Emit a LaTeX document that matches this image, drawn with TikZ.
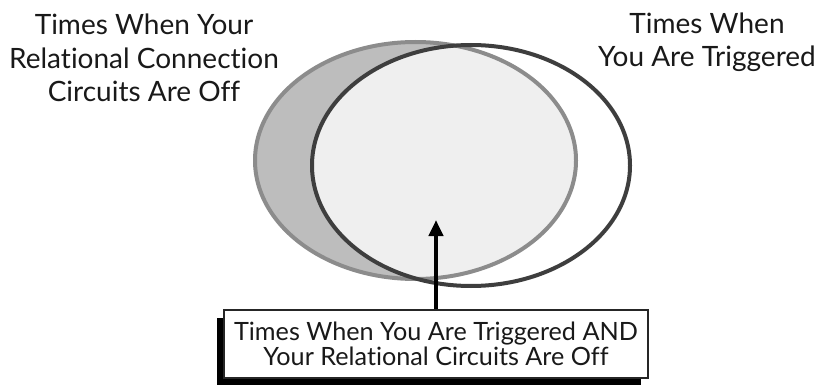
\documentclass[tikz,border=0pt]{standalone}
\usepackage{fontspec}
\setmainfont{Lato}[Ligatures=NoCommon]
\usepackage{tikz}
\usetikzlibrary{arrows.meta, positioning, shadows}
\definecolor{offgray}{RGB}{189,189,189}
\definecolor{offedge}{RGB}{140,140,140}
\definecolor{overlapgray}{RGB}{239,239,239}
\definecolor{trigedge}{RGB}{62,62,62}

\begin{document}
\begin{tikzpicture}[x=0.5pt, y=-0.5pt,
  lbl/.style={align=center, font=\fontsize{14}{16.75}\selectfont, text=black!90},
  callout/.style={draw=black!85, line width=0.8pt, fill=white, align=center,
    minimum width=212pt, minimum height=34pt, inner sep=0pt,
    font=\fontsize{12.6}{10.8}\selectfont, text=black!90,
    drop shadow={shadow xshift=-3.5pt, shadow yshift=-4pt, fill=black, opacity=1}}]
  \useasboundingbox (0,0) rectangle (819,385);
  % the two sets
  \fill[offgray] (415.5,160.5) ellipse [x radius=160.5, y radius=118.5];
  \begin{scope}
    \clip (415.5,160.5) ellipse [x radius=160.5, y radius=118.5];
    \fill[overlapgray] (471,165.5) ellipse [x radius=159, y radius=120.5];
  \end{scope}
  \draw[offedge, line width=2pt] (415.5,160.5) ellipse [x radius=160.5, y radius=118.5];
  \draw[trigedge, line width=2pt] (471,165.5) ellipse [x radius=159, y radius=120.5];
  % labels
  \node[lbl] (offlbl) at (144,58) {Times When Your\\Relational Connection\\Circuits Are Off};
  \node[lbl] (triglbl) at (707,42) {Times When\\You Are Triggered};
  \node[callout] (both) at (436,344) {Times When You Are Triggered AND\\Your Relational Circuits Are Off};
  \coordinate (tip) at (both.north |- 0,220);
  \draw[-{Triangle[length=8pt, width=7pt]}, line width=2pt] (both.north) -- (tip);
\end{tikzpicture}
\end{document}
